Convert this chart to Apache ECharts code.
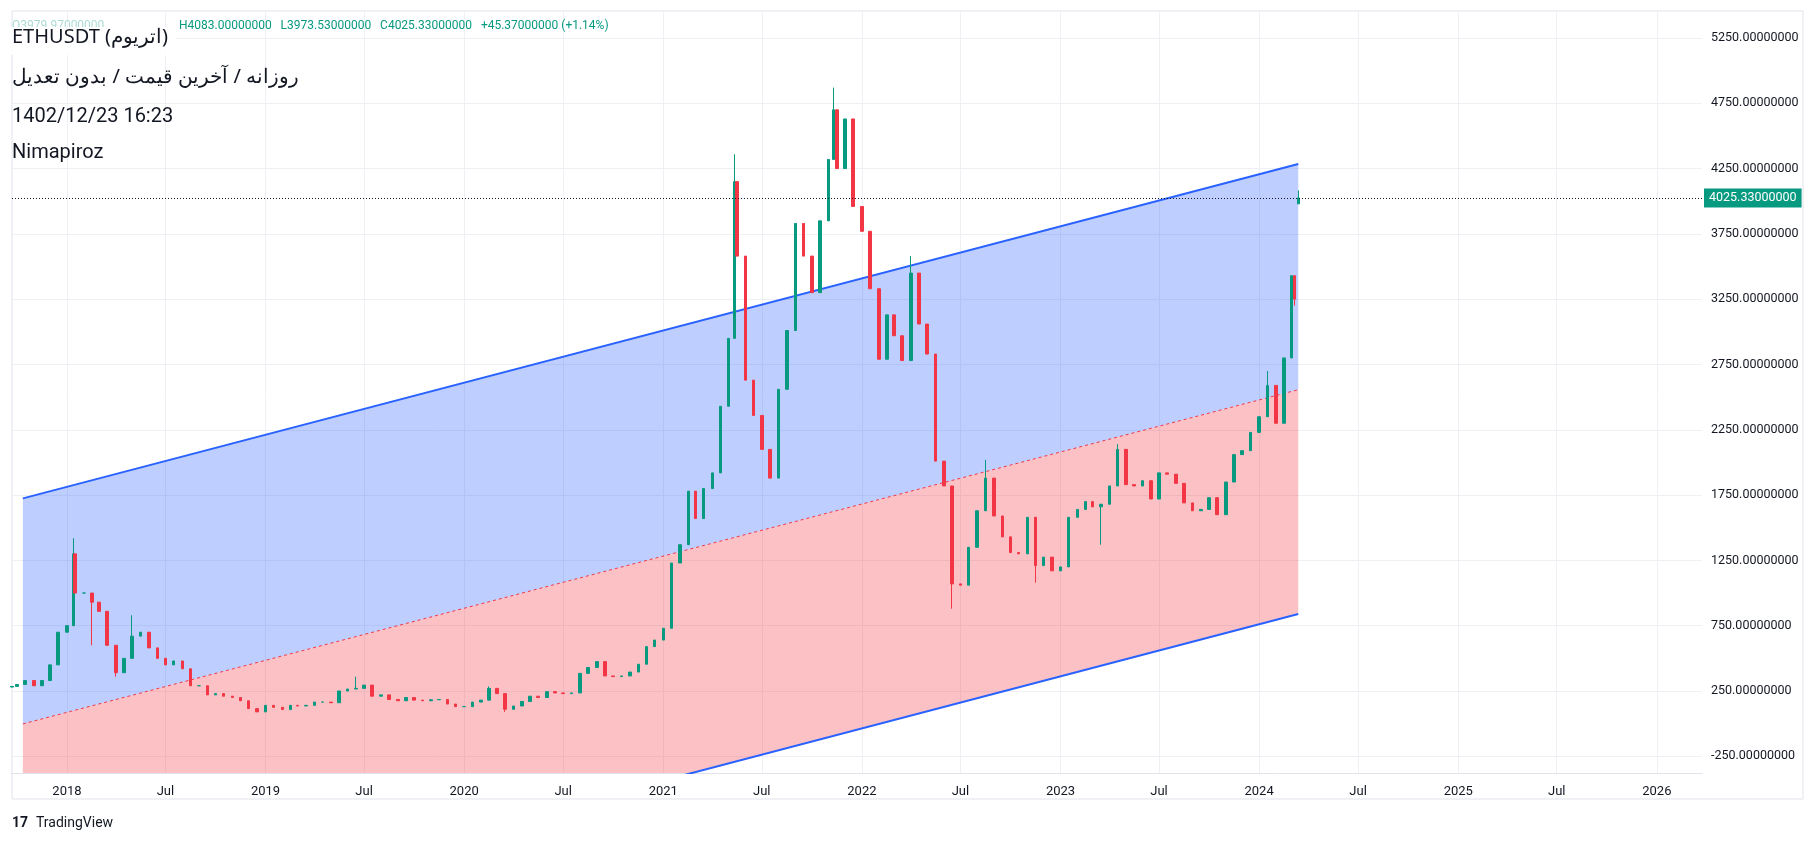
<!DOCTYPE html>
<html><head><meta charset="utf-8">
<script src="https://cdn.jsdelivr.net/npm/echarts@6/dist/echarts.min.js"></script>
<style>html,body{margin:0;padding:0;background:#fff}#c{width:1815px;height:844px}</style>
</head><body><div id="c"></div>
<script>
const dates = ['2017-09-22','2017-10-01','2017-10-16','2017-11-01','2017-11-16','2017-12-01','2017-12-16',
'2018-01-01','2018-01-13','2018-01-16','2018-02-01','2018-02-16','2018-03-01','2018-03-16','2018-04-01','2018-04-16','2018-05-01','2018-05-16','2018-06-01','2018-06-16','2018-07-01','2018-07-16','2018-08-01','2018-08-16','2018-09-01','2018-09-16','2018-10-01','2018-10-16','2018-11-01','2018-11-16','2018-12-01','2018-12-16',
'2019-01-01','2019-01-16','2019-02-01','2019-02-16','2019-03-01','2019-03-16','2019-04-01','2019-04-16','2019-05-01','2019-05-16','2019-06-01','2019-06-16','2019-07-01','2019-07-16','2019-08-01','2019-08-16','2019-09-01','2019-09-16','2019-10-01','2019-10-16','2019-11-01','2019-11-16','2019-12-01','2019-12-16',
'2020-01-01','2020-01-16','2020-02-01','2020-02-16','2020-03-01','2020-03-16','2020-04-01','2020-04-16','2020-05-01','2020-05-16','2020-06-01','2020-06-16','2020-07-01','2020-07-16','2020-08-01','2020-08-16','2020-09-01','2020-09-16','2020-10-01','2020-10-16','2020-11-01','2020-11-16','2020-12-01','2020-12-16',
'2021-01-01','2021-01-16','2021-02-01','2021-02-16','2021-03-01','2021-03-16','2021-04-01','2021-04-16','2021-05-01','2021-05-12','2021-05-16','2021-06-01','2021-06-16','2021-07-01','2021-07-16','2021-08-01','2021-08-16','2021-09-01','2021-09-16','2021-10-01','2021-10-16','2021-11-01','2021-11-10','2021-11-16','2021-12-01','2021-12-16',
'2022-01-01','2022-01-16','2022-02-01','2022-02-16','2022-03-01','2022-03-16','2022-04-01','2022-04-16','2022-05-01','2022-05-16','2022-06-01','2022-06-16','2022-07-01','2022-07-16','2022-08-01','2022-08-16','2022-09-01','2022-09-16','2022-10-01','2022-10-16','2022-11-01','2022-11-16','2022-12-01','2022-12-16',
'2023-01-01','2023-01-16','2023-02-01','2023-02-16','2023-03-01','2023-03-16','2023-04-01','2023-04-16','2023-05-01','2023-05-16','2023-06-01','2023-06-16','2023-07-01','2023-07-16','2023-08-01','2023-08-16','2023-09-01','2023-09-16','2023-10-01','2023-10-16','2023-11-01','2023-11-16','2023-12-01','2023-12-16',
'2024-01-01','2024-01-16','2024-02-01','2024-02-16','2024-03-01','2024-03-06','2024-03-13'];
const closes = [285,300,330,290,330,450,700,
750,1300,1000,1000,930,860,600,390,500,670,700,580,500,450,480,420,290,290,220,230,210,200,175,115,90,
140,125,108,140,135,140,165,165,160,250,265,270,295,210,220,185,175,200,180,175,183,185,150,130,
130,165,180,270,230,110,135,170,210,200,245,235,230,235,385,430,475,365,360,365,395,455,590,640,
730,1230,1370,1780,1570,1800,1920,2430,2950,4150,3580,2630,2360,2100,1880,2560,3010,3830,3580,3300,3850,4320,4700,4250,4630,3960,
3770,3330,2790,3130,2970,2780,3450,3060,2830,2010,1820,1070,1060,1350,1630,1880,1590,1430,1310,1300,1580,1210,1275,1170,
1200,1580,1640,1700,1660,1680,1820,2100,1830,1820,1860,1720,1920,1910,1840,1690,1630,1640,1730,1600,1850,2060,2090,2230,
2350,2590,2300,2800,3430,3250,4025.33];
const highs = {'2018-01-13':1420,'2018-05-01':830,'2019-06-16':360,'2020-02-16':285,'2021-05-12':4360,'2021-11-10':4870,'2022-04-01':3580,'2022-08-16':2020,'2023-04-16':2140,'2024-01-16':2700,'2024-03-13':4083};
const lows = {'2018-02-16':600,'2018-04-01':360,'2020-03-16':90,'2022-06-16':880,'2022-11-16':1080,'2023-03-16':1370,'2024-03-06':3200};
const opens = {'2017-09-22':280,'2024-03-13':3979.97};
const channelDates = ['2017-10-12','2024-03-13'];
const upperLine = [1725,4285];
const midLine = [-2,2557];
const lowerLine = [-1721,839];
const yTicks = [-250,250,750,1250,1750,2250,2750,3250,3750,4250,4750,5250];
const xTicks = ['2018-01-01','2018-07-01','2019-01-01','2019-07-01','2020-01-01','2020-07-01','2021-01-01','2021-07-01','2022-01-01','2022-07-01','2023-01-01','2023-07-01','2024-01-01','2024-07-01','2025-01-01','2025-07-01','2026-01-01'];
const lastPrice = 4025.33;

const ts = d => new Date(d + 'T00:00:00Z').getTime();
const candles = dates.map((d,i)=>{
  const c = closes[i];
  const o = opens[d] !== undefined ? opens[d] : (i>0 ? closes[i-1] : c);
  const h = highs[d] !== undefined ? highs[d] : Math.max(o,c);
  const l = lows[d] !== undefined ? lows[d] : Math.min(o,c);
  return [ts(d), o, c, l, h];
});
const cd = channelDates.map(ts);
const bands = [[cd[0],upperLine[0],midLine[0],cd[1],upperLine[1],midLine[1],'rgba(41,98,255,0.31)'],
               [cd[0],midLine[0],lowerLine[0],cd[1],midLine[1],lowerLine[1],'rgba(242,54,69,0.31)']];

const chart = echarts.init(document.getElementById('c'));
chart.setOption({
  animation:false,
  grid:{left:12,right:113,top:12,bottom:71},
  xAxis:{type:'value',min:ts('2017-09-22'),max:ts('2026-03-25'),
    axisLine:{show:true,onZero:false,lineStyle:{color:'#e0e3eb'}},axisTick:{show:false},splitLine:{show:false},
    axisLabel:{customValues:xTicks.map(ts),margin:12,fontSize:13,fontFamily:'Roboto',color:'#131722',
      formatter:v=>{const d=new Date(v);return d.getUTCMonth()===0?String(d.getUTCFullYear()):'Jul';}}},
  yAxis:{type:'value',position:'right',min:-378,max:5449,
    axisLine:{show:false},axisTick:{show:false},splitLine:{show:false},
    axisLabel:{customValues:yTicks,margin:9,fontSize:12.5,fontFamily:'Roboto',color:'#131722',formatter:v=>v.toFixed(8)}},
  graphic:[
    {type:'rect',shape:{x:12,y:11,width:1791,height:788},style:{fill:'none',stroke:'#e0e3eb',lineWidth:1},silent:true,z:-1},
    {type:'text',left:12,top:20,style:{text:'O3979.97000000',fill:'rgba(8,153,129,0.35)',font:'12px Roboto'},z:5},
    {type:'text',left:179,top:20,style:{text:'H4083.00000000   L3973.53000000   C4025.33000000   +45.37000000 (+1.14%)',fill:'#089981',font:'12px Roboto'},z:5},
    {type:'rect',shape:{x:8,y:27,width:168,height:28},style:{fill:'rgba(255,255,255,0.9)'},z:5},
    {type:'text',left:12,top:27,style:{text:'ETHUSDT (اتریوم)',fill:'#131722',font:'20px "Noto Sans", Roboto'},z:6},
    {type:'text',left:12,top:67,style:{text:'روزانه / آخرین قیمت / بدون تعدیل',fill:'#131722',font:'20px "Noto Sans", Roboto'},z:6},
    {type:'text',left:12,top:107,style:{text:'1402/12/23 16:23',fill:'#131722',font:'20px Roboto'},z:6},
    {type:'text',left:12,top:143,style:{text:'Nimapiroz',fill:'#131722',font:'20px Roboto'},z:6},
    {type:'text',left:12,top:816,style:{text:'17',fill:'#131722',font:'bold 14px Roboto'},z:6},
    {type:'text',left:36,top:816,style:{text:'TradingView',fill:'#131722',font:'14px Roboto'},z:6}
  ],
  series:[
    {type:'custom',clip:true,z:1,silent:true,data:bands,
     renderItem:(p,api)=>{
       const a=api.coord([api.value(0),api.value(1)]),b=api.coord([api.value(3),api.value(4)]),
             c=api.coord([api.value(3),api.value(5)]),d=api.coord([api.value(0),api.value(2)]);
       return {type:'polygon',shape:{points:[a,b,c,d]},style:{fill:bands[p.dataIndex][6]}};
     },
     markLine:{silent:true,symbol:'none',label:{show:false},lineStyle:{color:'#eef0f4',width:1,type:'solid'},z:0,
       data:[...yTicks.map(v=>({yAxis:v})),...xTicks.map(t=>({xAxis:ts(t)}))]}},
    {type:'line',data:[[cd[0],upperLine[0]],[cd[1],upperLine[1]]],symbol:'none',lineStyle:{color:'#2962ff',width:2},z:3},
    {type:'line',data:[[cd[0],lowerLine[0]],[cd[1],lowerLine[1]]],symbol:'none',lineStyle:{color:'#2962ff',width:2},z:3,clip:true},
    {type:'line',data:[[cd[0],midLine[0]],[cd[1],midLine[1]]],symbol:'none',lineStyle:{color:'#f23645',width:1,type:[3,3]},z:3},
    {type:'candlestick',data:candles,barWidth:3,z:4,
     itemStyle:{color:'#089981',color0:'#f23645',borderColor:'#089981',borderColor0:'#f23645',borderWidth:1},
     markLine:{silent:true,symbol:'none',lineStyle:{color:'#131722',width:1,type:[1,2]},
       label:{position:'end',distance:2,formatter:()=>lastPrice.toFixed(8),color:'#fff',backgroundColor:'#089981',padding:[3,5],fontSize:12.5,fontFamily:'Roboto'},
       data:[{yAxis:lastPrice}]}}
  ]
});
</script></body></html>
